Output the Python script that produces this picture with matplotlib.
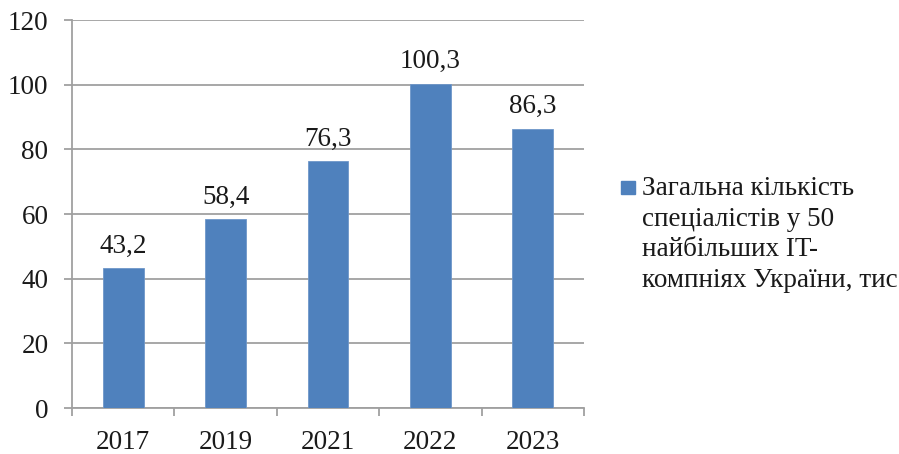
import matplotlib.pyplot as plt
from matplotlib.patches import Rectangle

plt.rcParams["font.family"] = ["Liberation Serif", "DejaVu Serif"]

years = ["2017", "2019", "2021", "2022", "2023"]
specialists = [43.2, 58.4, 76.3, 100.3, 86.3]
value_labels = ["43,2", "58,4", "76,3", "100,3", "86,3"]
legend_label = "Загальна кількість\nспеціалістів у 50\nнайбільших IT-\nкомпніях України, тис"

BAR_COLOR = "#4F81BD"
GRID_COLOR = "#A0A0A0"
TEXT_COLOR = "#1A1A1A"
FONT_SIZE = 19.5


def draw_chart():
    fig = plt.figure(figsize=(8.99, 4.54), dpi=100)
    ax = fig.add_axes([0.0801, 0.1013, 0.5695, 0.8546])

    x = range(len(years))
    bars = ax.bar(x, specialists, width=0.4, color=BAR_COLOR,
                  edgecolor="#6F97C9", linewidth=0.6, zorder=3)

    for bar, text in zip(bars, value_labels):
        ax.annotate(text, (bar.get_x() + bar.get_width() / 2, bar.get_height()),
                    xytext=(0, 7), textcoords="offset points",
                    ha="center", va="bottom", fontsize=FONT_SIZE, color=TEXT_COLOR)

    ax.set_xlim(-0.5, len(years) - 0.5)
    ax.set_ylim(0, 120)
    ax.set_yticks(range(0, 121, 20))
    ax.set_xticks(x)
    ax.set_xticklabels(years)
    ax.set_xticks([i - 0.5 for i in range(len(years) + 1)], minor=True)

    ax.yaxis.grid(True, color=GRID_COLOR, linewidth=1.3, zorder=0)
    ax.set_axisbelow(True)
    for side in ("top", "right"):
        ax.spines[side].set_visible(False)
    for side in ("left", "bottom"):
        ax.spines[side].set_color(GRID_COLOR)
        ax.spines[side].set_linewidth(1.3)

    ax.tick_params(axis="y", length=6, width=1.3, color=GRID_COLOR,
                   labelsize=FONT_SIZE, labelcolor=TEXT_COLOR, pad=11)
    ax.tick_params(axis="x", which="major", length=0,
                   labelsize=FONT_SIZE, labelcolor=TEXT_COLOR, pad=16)
    ax.tick_params(axis="x", which="minor", length=6, width=1.3, color=GRID_COLOR)

    # legend: square marker next to the first line of a wrapped label
    fig.add_artist(Rectangle((621 / 899, 1 - 194 / 454), 14 / 899, 13 / 454,
                             transform=fig.transFigure, color=BAR_COLOR))
    fig.text(642 / 899, 1 - 176 / 454, legend_label, ha="left", va="top",
             fontsize=FONT_SIZE, color=TEXT_COLOR, linespacing=1.3)

    fig.savefig("out.png", dpi=100)


if __name__ == "__main__":
    draw_chart()
